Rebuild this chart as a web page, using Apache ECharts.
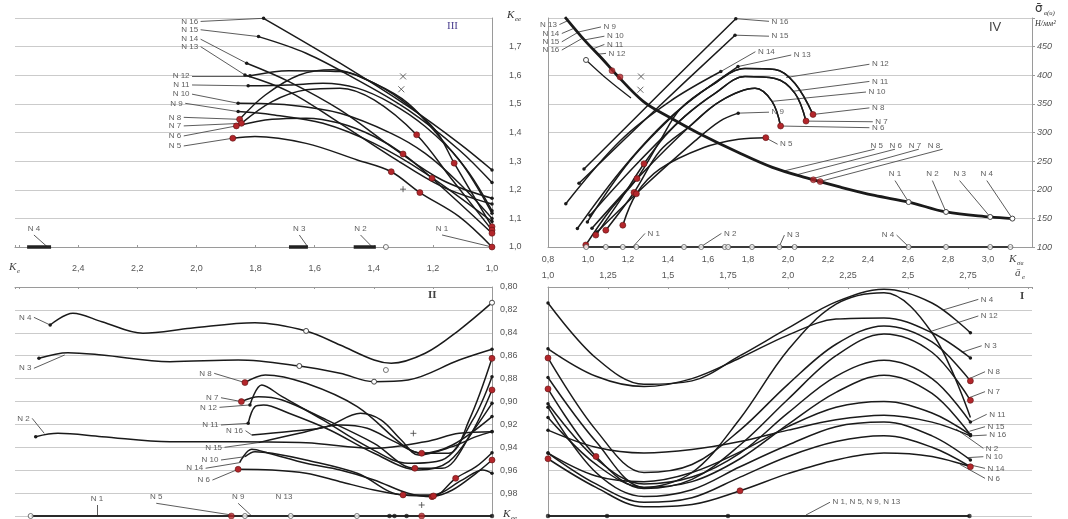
<!DOCTYPE html>
<html><head><meta charset="utf-8">
<script src="https://cdn.jsdelivr.net/npm/echarts@6/dist/echarts.min.js"></script>
<style>html,body{margin:0;padding:0;background:#fff}#c{width:1068px;height:519px}</style>
</head><body><div id="c"></div>
<script>
// ================= DATA =================
// Quadrant III : x = K_e, y = K_ee
const q3N16 = [[1.773,1.799],[1.514,1.642],[1.284,1.491],[1.111,1.362],[1.0,1.269]];
const q3N15 = [[1.790,1.735],[1.629,1.677],[1.456,1.584],[1.284,1.479],[1.111,1.339],[1.0,1.225]];
const q3N14 = [[1.830,1.642],[1.687,1.578],[1.514,1.479],[1.341,1.351],[1.169,1.234],[1.0,1.170]];
const q3N13 = [[1.836,1.601],[1.687,1.543],[1.514,1.432],[1.341,1.316],[1.169,1.211],[1.0,1.150]];
const q3N12 = [[1.819,1.598],[1.687,1.616],[1.514,1.613],[1.399,1.572],[1.284,1.502],[1.169,1.374],[1.077,1.258],[1.0,1.127]];
const q3N11 = [[1.825,1.563],[1.687,1.566],[1.572,1.572],[1.456,1.555],[1.341,1.502],[1.226,1.421],[1.111,1.304],[1.0,1.118]];
const q3N10 = [[1.859,1.502],[1.687,1.496],[1.514,1.467],[1.341,1.397],[1.226,1.327],[1.111,1.223],[1.0,1.100]];
const q3N9  = [[1.859,1.473],[1.744,1.462],[1.572,1.432],[1.399,1.362],[1.226,1.258],[1.0,1.089]];
const q3N8  = [[1.854,1.446],[1.767,1.531],[1.652,1.601],[1.537,1.619],[1.422,1.584],[1.307,1.514],[1.192,1.409],[1.128,1.293],[1.0,1.071]];
const q3N7  = [[1.848,1.432],[1.744,1.508],[1.629,1.549],[1.514,1.555],[1.399,1.514],[1.255,1.392],[1.134,1.234],[1.0,1.059]];
const q3N6  = [[1.865,1.423],[1.744,1.446],[1.629,1.450],[1.514,1.432],[1.399,1.386],[1.301,1.325],[1.203,1.240],[1.0,1.048]];
const q3N5  = [[1.877,1.380],[1.802,1.386],[1.629,1.362],[1.456,1.304],[1.341,1.263],[1.244,1.190],[1.111,1.106],[1.0,1.0]];
const q3Clusters = [[2.573,2.492],[1.687,1.623],[1.468,1.393]];
const q3Cross = [[1.301,1.596],[1.307,1.551]];
const q3Plus = [[1.301,1.202]];
const q3Labels = [
 ['N 16',1.986,1.788,1.773,1.799],['N 15',1.986,1.759,1.790,1.735],['N 14',1.986,1.726,1.830,1.642],
 ['N 13',1.986,1.700,1.836,1.601],['N 12',2.015,1.598,1.819,1.598],['N 11',2.015,1.566,1.825,1.563],
 ['N 10',2.015,1.534,1.859,1.502],['N 9',2.038,1.502,1.859,1.473],['N 8',2.043,1.453,1.854,1.446],
 ['N 7',2.043,1.423,1.848,1.432],['N 6',2.043,1.388,1.865,1.423],['N 5',2.043,1.353,1.877,1.380],
 ['N 4',2.550,1.042,2.504,1.0,'top'],['N 3',1.652,1.042,1.623,1.0,'top'],
 ['N 2',1.445,1.042,1.405,1.0,'top'],['N 1',1.169,1.042,1.0,1.0,'top']
];

// Quadrant IV : x = K_sigma, y = sigma (N/mm2)
const q4Sigma = [[0.885,501.7],[0.987,459.6],[1.072,428.4],[1.140,401.9],[1.276,354.5],[1.412,325.7],[1.548,299.7],[1.752,265.1],[1.922,239.1],[2.093,220.6],[2.263,204.5],[2.433,190.0],[2.603,178.5],[2.790,161.2],[3.011,152.5],[3.122,149.6]];
const q4Branch = [[0.990,426.7],[1.100,392.0],[1.215,360.3]];
const q4RedPts = [[1.12,408],[1.16,397],[2.127,217.4],[2.161,214.2]];
const q4Cross = [[1.265,397.8],[1.262,374.7]];
const q4N16 = [[0.980,236.3],[1.360,368.4],[1.739,498.8]];
const q4N15 = [[0.955,211.3],[1.340,340.7],[1.735,470.0]];
const q4N14 = [[0.889,175.7],[1.160,285.3],[1.410,354.5],[1.664,406.5]];
const q4N13 = [[0.947,132.4],[1.185,242.0],[1.435,333.8],[1.750,415.2]];
const q4N12 = [[0.997,143.8],[1.210,250.6],[1.460,340.7],[1.610,380.5],[1.785,411.7],[1.935,410.0],[2.035,385.7],[2.125,331.5]];
const q4N8  = [[0.989,103.5],[1.110,164.1],[1.245,219.5],[1.360,285.3],[1.460,340.7],[1.610,380.5],[1.785,411.7],[1.935,410.0],[2.035,385.7],[2.125,331.5]];
const q4N11 = [[1.010,155.4],[1.235,242.0],[1.485,328.6],[1.635,368.4],[1.785,397.8],[1.935,394.4],[2.035,368.4],[2.090,319.9]];
const q4N7  = [[1.039,120.8],[1.160,181.4],[1.280,245.5],[1.385,293.9],[1.485,328.6],[1.635,368.4],[1.785,397.8],[1.935,394.4],[2.035,368.4],[2.090,319.9]];
const q4N10 = [[1.020,132.9],[1.260,224.7],[1.510,311.3],[1.660,354.5],[1.835,377.1],[1.920,354.5],[1.963,311.3]];
const q4N6  = [[1.089,129.4],[1.230,195.2],[1.360,268.0],[1.510,311.3],[1.660,354.5],[1.835,377.1],[1.920,354.5],[1.963,311.3]];
const q4N9  = [[1.045,126.0],[1.285,207.4],[1.535,285.3],[1.660,319.9],[1.751,333.8]];
const q4N5  = [[1.174,138.1],[1.242,193.0],[1.360,236.3],[1.580,273.7],[1.753,288.2],[1.889,291.0]];
const q4Base = [0.991,1.089,1.174,1.242,1.480,1.566,1.684,1.701,1.820,1.957,2.033,2.603,2.790,3.011,3.112];
const q4Labels = [
 ['N 13',0.857,488.5,0.900,495.5],['N 14',0.869,472.9,0.932,482.3],['N 15',0.869,458.4,0.950,475.0],['N 16',0.869,444.0,0.974,465.0],
 ['N 9',1.065,484.4,0.949,475.3,'right'],['N 10',1.082,468.2,0.982,461.7,'right'],['N 11',1.082,453.8,1.024,446.0,'right'],['N 12',1.090,438.2,1.049,436.8,'right'],
 ['N 16',1.905,494.2,1.739,498.8,'right'],['N 15',1.905,468.2,1.735,470.0,'right'],['N 14',1.837,441.1,1.664,406.5,'right'],
 ['N 13',2.016,435.3,1.750,415.2,'right'],['N 12',2.407,419.2,1.991,396.0,'right'],['N 11',2.407,389.2,2.025,372.0,'right'],
 ['N 10',2.390,370.7,1.922,354.5,'right'],['N 8',2.407,343.0,2.125,331.5,'right'],['N 7',2.424,318.8,2.090,319.9,'right'],
 ['N 6',2.407,308.4,1.963,311.3,'right'],['N 9',1.905,335.5,1.751,333.8,'right'],['N 5',1.948,279.5,1.887,291.0,'right'],
 ['N 5   N 6   N 7   N 8',2.40,277,2.40,277,'right'],
 ['',2.433,270.8,1.982,233.0],['',2.535,270.8,2.042,226.0],['',2.654,270.8,2.110,218.0],['',2.773,270.8,2.161,214.5],
 ['N 1',2.535,216,2.603,178.5,'top'],['N 2',2.722,216,2.790,161.2,'top'],['N 3',2.858,216,3.011,152.5,'top'],['N 4',2.994,216,3.122,149.6,'top'],
 ['N 1',1.285,123.7,1.225,100.6,'right'],['N 2',1.667,123.7,1.565,100.6,'right'],['N 3',1.982,120.8,1.956,100.6,'right'],['N 4',2.543,120.8,2.603,100.6,'left']
];

// Quadrant II : x = K_e, y = K_ee (0.80 .. 1.00, downward)
const q2N4 = [[2.495,0.8332],[2.418,0.8230],[2.320,0.8303],[2.181,0.8404],[2.020,0.8361],[1.802,0.8312],[1.629,0.8384],[1.514,0.8507],[1.399,0.8638],[1.341,0.8666],[1.226,0.8579],[1.111,0.8376],[1.0,0.8137]];
const q2N3 = [[2.533,0.8623],[2.435,0.8574],[2.320,0.8594],[2.090,0.8652],[1.859,0.8638],[1.652,0.8690],[1.514,0.8754],[1.399,0.8827],[1.284,0.8812],[1.111,0.8638],[1.0,0.8544]];
const q2N2 = [[2.544,0.9307],[2.469,0.9278],[2.320,0.9307],[2.090,0.9351],[1.859,0.9351],[1.629,0.9360],[1.399,0.9408],[1.226,0.9351],[1.111,0.9278],[1.0,0.9264]];
const q2N8 = [[1.836,0.8835],[1.767,0.8768],[1.629,0.8841],[1.456,0.9045],[1.295,0.9394],[1.238,0.9452],[1.146,0.9452],[1.077,0.9161],[1.0,0.8623]];
const q2N7 = [[1.848,0.9001],[1.790,0.8958],[1.710,0.8987],[1.560,0.9161],[1.399,0.9365],[1.261,0.9583],[1.169,0.9583],[1.077,0.9307],[1.0,0.8899]];
const q2N12 = [[1.819,0.9030],[1.779,0.8856],[1.710,0.8958],[1.572,0.9161],[1.422,0.9394],[1.284,0.9540],[1.169,0.9511],[1.065,0.9161],[1.0,0.8783]];
const q2N11 = [[1.825,0.9191],[1.802,0.9045],[1.773,0.9030],[1.687,0.9103],[1.549,0.9249],[1.399,0.9452],[1.249,0.9598],[1.146,0.9525],[1.054,0.9220],[1.0,0.9016]];
const q2N16 = [[1.813,0.9292],[1.687,0.9263],[1.560,0.9220],[1.445,0.9103],[1.376,0.9161],[1.307,0.9336],[1.249,0.9467],[1.134,0.9394],[1.054,0.9307],[1.0,0.9263]];
const q2N15 = [[1.790,0.9359],[1.652,0.9278],[1.514,0.9205],[1.422,0.9234],[1.330,0.9351],[1.238,0.9452],[1.134,0.9380],[1.0,0.9132]];
const q2N10 = [[1.836,0.9482],[1.802,0.9438],[1.744,0.9452],[1.629,0.9511],[1.456,0.9627],[1.301,0.9816],[1.203,0.9816],[1.100,0.9685],[1.031,0.9598],[1.0,0.9627]];
const q2N14 = [[1.854,0.9534],[1.813,0.9418],[1.756,0.9452],[1.629,0.9540],[1.514,0.9598],[1.399,0.9685],[1.284,0.9802],[1.203,0.9831],[1.123,0.9671],[1.054,0.9569],[1.0,0.9447]];
const q2N6 = [[1.859,0.9592],[1.744,0.9598],[1.629,0.9627],[1.514,0.9700],[1.399,0.9773],[1.301,0.9816],[1.198,0.9825],[1.134,0.9773],[1.054,0.9627],[1.0,0.9511]];
const q2BaseHollow = [2.561,1.836,1.681,1.457];
const q2BaseBlack = [1.347,1.330,1.289,1.0];
const q2BaseRed = [1.882,1.238];
const q2Hollow = [[1.359,0.8725]];
const q2Plus = [[1.266,0.9278],[1.238,0.9904]];
const q2Labels = [
 ['N 4',2.550,0.8265,2.495,0.8332],['N 3',2.550,0.8710,2.446,0.8594],['N 2',2.556,0.9147,2.515,0.9278],
 ['N 8',1.940,0.8754,1.836,0.8835],['N 7',1.917,0.8967,1.848,0.9001],['N 12',1.922,0.9051,1.819,0.9030],
 ['N 11',1.917,0.9205,1.825,0.9191],['N 16',1.834,0.9255,1.813,0.9292],['N 15',1.905,0.9400,1.790,0.9359],
 ['N 10',1.917,0.9511,1.836,0.9482],['N 14',1.969,0.9583,1.854,0.9534],['N 6',1.946,0.9686,1.859,0.9592],
 ['N 1',2.337,0.9904,2.337,1.0,'top'],['N 5',2.136,0.9889,1.882,0.9991,'top'],['N 9',1.859,0.9889,1.813,1.0,'top'],
 ['N 13',1.704,0.9889,1.704,0.9889,'top']
];

// Quadrant I : x = a_e, y = K_ee (0.80 .. 1.00, downward)
const q1N4  = [[1.0,0.814],[1.2,0.862],[1.4,0.885],[1.6,0.882],[1.8,0.860],[2.0,0.836],[2.2,0.813],[2.4,0.802],[2.6,0.814],[2.76,0.840]];
const q1N3  = [[1.0,0.854],[1.2,0.878],[1.4,0.887],[1.6,0.880],[1.8,0.862],[2.0,0.842],[2.2,0.828],[2.4,0.827],[2.6,0.840],[2.76,0.862]];
const q1N12 = [[1.0,0.879],[1.2,0.935],[1.4,0.975],[1.6,0.962],[1.8,0.915],[2.0,0.855],[2.2,0.815],[2.4,0.805],[2.6,0.840],[2.76,0.914]];
const q1N8  = [[1.0,0.862],[1.2,0.925],[1.4,0.962],[1.6,0.955],[1.8,0.925],[2.0,0.885],[2.2,0.850],[2.4,0.834],[2.6,0.848],[2.76,0.882]];
const q1N7  = [[1.0,0.889],[1.2,0.948],[1.4,0.976],[1.6,0.968],[1.8,0.938],[2.0,0.898],[2.2,0.860],[2.4,0.841],[2.6,0.857],[2.76,0.899]];
const q1N11 = [[1.0,0.902],[1.2,0.950],[1.4,0.972],[1.6,0.966],[1.8,0.945],[2.0,0.910],[2.2,0.878],[2.4,0.864],[2.6,0.880],[2.76,0.918]];
const q1N16 = [[1.0,0.914],[1.2,0.955],[1.4,0.975],[1.6,0.970],[1.8,0.950],[2.0,0.920],[2.2,0.892],[2.4,0.877],[2.6,0.893],[2.76,0.929]];
const q1N2  = [[1.0,0.925],[1.2,0.940],[1.4,0.945],[1.6,0.942],[1.8,0.935],[2.0,0.925],[2.2,0.916],[2.4,0.912],[2.6,0.918],[2.76,0.930]];
const q1N15 = [[1.0,0.945],[1.2,0.965],[1.4,0.970],[1.6,0.962],[1.8,0.944],[2.0,0.922],[2.2,0.905],[2.4,0.900],[2.6,0.910],[2.76,0.929]];
const q1N10 = [[1.0,0.905],[1.2,0.962],[1.4,0.983],[1.6,0.977],[1.8,0.957],[2.0,0.938],[2.2,0.922],[2.4,0.918],[2.6,0.930],[2.76,0.951]];
const q1N14 = [[1.0,0.945],[1.2,0.972],[1.4,0.988],[1.6,0.984],[1.8,0.966],[2.0,0.948],[2.2,0.935],[2.4,0.930],[2.6,0.940],[2.76,0.957]];
const q1N6  = [[1.0,0.950],[1.2,0.975],[1.4,0.992],[1.6,0.990],[1.8,0.978],[2.0,0.963],[2.2,0.951],[2.4,0.945],[2.6,0.948],[2.76,0.957]];
const q1Base = [1.0,1.246,1.750,2.756];
const q1Labels = [
 ['N 4',2.793,0.8108,2.647,0.8200,'right'],['N 12',2.793,0.8253,2.592,0.8390,'right'],['N 3',2.807,0.8513,2.724,0.8570,'right'],
 ['N 8',2.821,0.8740,2.756,0.8800,'right'],['N 7',2.821,0.8914,2.751,0.8970,'right'],['N 11',2.828,0.9112,2.761,0.9180,'right'],
 ['N 15',2.821,0.9220,2.756,0.9260,'right'],['N 16',2.828,0.9293,2.765,0.9300,'right'],['N 2',2.814,0.9409,2.700,0.9240,'right'],
 ['N 10',2.814,0.9482,2.751,0.9490,'right'],['N 14',2.821,0.9584,2.751,0.9550,'right'],['N 6',2.821,0.9671,2.717,0.9550,'right'],
 ['N 1, N 5, N 9, N 13',2.175,0.9880,2.075,0.9991,'right']
];

// ================= RENDER =================
const RED = '#b3262b', BLK = '#1a1a1a', GRID = '#cbcbcb', AX = '#9a9a9a';
const FONT = 'Liberation Sans, Arial, sans-serif';
const fmt1 = v => v.toFixed(1).replace('.', ',');

function curve(data, xi, yi, o) {
  o = o || {};
  const red = o.red || [], black = o.black || [], hollow = o.hollow || [];
  return {
    type: 'line', xAxisIndex: xi, yAxisIndex: yi, smooth: 0.35, symbol: 'none', showSymbol: true,
    clip: false, silent: true, z: 3, lineStyle: { color: BLK, width: o.w || 1.5 },
    data: data.map((p, i) => {
      if (red.includes(i)) return { value: p, symbol: 'circle', symbolSize: 6, itemStyle: { color: RED, borderColor: '#5e1212', borderWidth: 0.6 } };
      if (hollow.includes(i)) return { value: p, symbol: 'circle', symbolSize: 5, itemStyle: { color: '#fff', borderColor: '#444', borderWidth: 1 } };
      if (black.includes(i)) return { value: p, symbol: 'circle', symbolSize: 3.5, itemStyle: { color: BLK } };
      return { value: p };
    })
  };
}
function pts(data, xi, yi, kind) {
  const st = {
    red: { symbol: 'circle', size: 6, style: { color: RED, borderColor: '#5e1212', borderWidth: 0.6 } },
    black: { symbol: 'circle', size: 4.5, style: { color: BLK } },
    hollow: { symbol: 'circle', size: 5, style: { color: '#fff', borderColor: '#555', borderWidth: 1 } },
    cross: { symbol: 'path://M0,0L10,10M10,0L0,10', size: 6, style: { color: 'none', borderColor: '#444', borderWidth: 1 } },
    plus: { symbol: 'path://M5,0L5,10M0,5L10,5', size: 6, style: { color: 'none', borderColor: '#444', borderWidth: 1 } }
  }[kind];
  return { type: 'scatter', xAxisIndex: xi, yAxisIndex: yi, clip: false, silent: true, z: 4,
    symbol: st.symbol, symbolSize: st.size, itemStyle: st.style, data: data };
}
function seg(data, xi, yi, w, c) {
  return { type: 'line', xAxisIndex: xi, yAxisIndex: yi, symbol: 'none', clip: false, silent: true, z: 2,
    lineStyle: { color: c || '#333', width: w }, data: data };
}
function labels(ann, xi, yi) {
  return [
    { type: 'lines', coordinateSystem: 'cartesian2d', xAxisIndex: xi, yAxisIndex: yi, silent: true, z: 2,
      lineStyle: { color: '#4a4a4a', width: 0.9, opacity: 1, curveness: 0 }, effect: { show: false },
      data: ann.filter(a => a[1] !== a[3] || a[2] !== a[4]).map(a => ({ coords: [[a[1], a[2]], [a[3], a[4]]] })) },
    { type: 'scatter', xAxisIndex: xi, yAxisIndex: yi, silent: true, z: 5, clip: false,
      symbol: 'circle', symbolSize: 1, itemStyle: { color: 'rgba(0,0,0,0)' },
      data: ann.filter(a => a[0]).map(a => ({ value: [a[1], a[2]],
        label: { show: true, formatter: a[0], position: a[5] || 'left', distance: 2,
          fontSize: 8, color: '#333', fontFamily: FONT } })) }
  ];
}

const series = [];
// ---- III
[[q3N16,[], [0,4]],[q3N15,[],[0,5]],[q3N14,[],[0,5]],[q3N13,[],[0,5]],[q3N12,[],[0,7]],[q3N11,[],[0,7]],
 [q3N10,[],[0,6]],[q3N9,[],[0,5]],[q3N8,[0,7,8],[]],[q3N7,[0,5,7],[]],[q3N6,[0,5,6,7],[]],[q3N5,[0,4,5,7],[]]]
 .forEach(c => series.push(curve(c[0], 0, 0, { red: c[1], black: c[2] })));
q3Clusters.forEach(c => series.push(seg([[c[0], 1.0], [c[1], 1.0]], 0, 0, 3.5, '#222')));
series.push(pts([[1.359, 1.0]], 0, 0, 'hollow'));
series.push(pts(q3Cross, 0, 0, 'cross'));
series.push(pts(q3Plus, 0, 0, 'plus'));
series.push(...labels(q3Labels, 0, 0));

// ---- IV
series.push(curve(q4Sigma, 1, 1, { w: 2.8, hollow: [12, 13, 14, 15] }));
series.push(curve(q4Branch, 1, 1, { w: 1.2, hollow: [0] }));
series.push(pts(q4RedPts, 1, 1, 'red'));
series.push(pts(q4Cross, 1, 1, 'cross'));
[[q4N16,[],[0,2]],[q4N15,[],[0,2]],[q4N14,[],[0,3]],[q4N13,[],[0,3]],[q4N12,[],[0]],[q4N11,[],[0]],
 [q4N10,[],[0]],[q4N9,[],[0,4]],[q4N8,[0,2,9],[]],[q4N7,[0,2,9],[]],[q4N6,[0,1,7],[]],[q4N5,[0,1,5],[]]]
 .forEach(c => series.push(curve(c[0], 1, 1, { red: c[1], black: c[2] })));
series.push(seg([[0.99, 100], [3.12, 100]], 1, 1, 1.8, '#3a3a3a'));
series.push(pts(q4Base.map(v => [v, 100]), 1, 1, 'hollow'));
series.push(...labels(q4Labels, 1, 1));

// ---- II
series.push(curve(q2N4, 2, 3, { black: [0], hollow: [6, 12] }));
series.push(curve(q2N3, 2, 3, { black: [0, 10], hollow: [5, 7] }));
series.push(curve(q2N2, 2, 3, { black: [0, 9] }));
[[q2N8,[0,5,8],[]],[q2N7,[0,5,8],[]],[q2N12,[],[0,8]],[q2N11,[],[0,9]],[q2N16,[],[9]],[q2N15,[],[7]],
 [q2N10,[5],[9]],[q2N14,[7,8],[10]],[q2N6,[0,6,9],[]]]
 .forEach(c => series.push(curve(c[0], 2, 3, { red: c[1], black: c[2] })));
series.push(pts(q2Hollow, 2, 3, 'hollow'));
series.push(pts(q2Plus, 2, 3, 'plus'));
series.push(seg([[2.561, 1.0], [1.0, 1.0]], 2, 3, 2.2, '#2a2a2a'));
series.push(pts(q2BaseHollow.map(v => [v, 1.0]), 2, 3, 'hollow'));
series.push(pts(q2BaseBlack.map(v => [v, 1.0]), 2, 3, 'black'));
series.push(pts(q2BaseRed.map(v => [v, 1.0]), 2, 3, 'red'));
series.push(...labels(q2Labels, 2, 3));

// ---- I
[[q1N4,[],[0,9]],[q1N3,[],[0,9]],[q1N12,[],[0]],[q1N8,[0,9],[]],[q1N7,[0,1,9],[]],[q1N11,[],[0,9]],
 [q1N16,[],[0,9]],[q1N2,[],[0,9]],[q1N15,[],[0,9]],[q1N10,[],[0,9]],[q1N14,[],[0,9]],[q1N6,[0,4,9],[]]]
 .forEach(c => series.push(curve(c[0], 3, 4, { red: c[1], black: c[2] })));
series.push(seg([[1.0, 1.0], [2.756, 1.0]], 3, 4, 2.2, '#2a2a2a'));
series.push(pts(q1Base.map(v => [v, 1.0]), 3, 4, 'black'));
series.push(...labels(q1Labels, 3, 4));

const lab = { fontSize: 9, color: '#555', fontFamily: FONT };
const axLine = { show: true, onZero: false, lineStyle: { color: AX, width: 1 } };
const split = { show: true, lineStyle: { color: GRID, width: 1 } };

const option = {
  animation: false,
  backgroundColor: '#fff',
  grid: [
    { left: 15, top: 18, width: 477, height: 229 },
    { left: 548, top: 18, width: 484, height: 229 },
    { left: 15, top: 287, width: 477, height: 229 },
    { left: 548, top: 287, width: 484, height: 229 }
  ],
  xAxis: [
    { gridIndex: 0, type: 'value', min: 1.0, max: 2.614, interval: 0.2, inverse: true, position: 'bottom',
      axisLine: axLine, axisTick: { show: true, inside: true, length: 2, lineStyle: { color: AX } },
      axisLabel: { show: false }, splitLine: { show: false } },
    { gridIndex: 1, type: 'value', min: 0.8, max: 3.22, interval: 0.2, position: 'bottom',
      axisLine: axLine, axisTick: { show: false },
      axisLabel: Object.assign({ margin: 8, formatter: v => v > 3.05 ? '' : fmt1(v) }, lab), splitLine: { show: false } },
    { gridIndex: 2, type: 'value', min: 1.0, max: 2.614, interval: 0.2, inverse: true, position: 'top',
      axisLine: axLine, axisTick: { show: true, inside: true, length: 2, lineStyle: { color: AX } },
      axisLabel: Object.assign({ margin: 14, formatter: v => v > 2.5 ? '' : fmt1(v) }, lab), splitLine: { show: false } },
    { gridIndex: 3, type: 'value', min: 1.0, max: 3.0167, interval: 0.25, position: 'top',
      axisLine: axLine, axisTick: { show: true, inside: true, length: 2, lineStyle: { color: AX } },
      axisLabel: Object.assign({ margin: 7, formatter: v => {
        if (v > 2.9) return '';
        const half = Math.abs(v * 2 - Math.round(v * 2)) < 1e-6;
        return (half ? v.toFixed(1) : v.toFixed(2)).replace('.', ',');
      } }, lab), splitLine: { show: false } }
  ],
  yAxis: [
    { gridIndex: 0, type: 'value', min: 1.0, max: 1.8, interval: 0.1, position: 'right',
      axisLine: axLine, axisTick: { show: false },
      axisLabel: Object.assign({ margin: 17, formatter: v => v > 1.75 ? '' : fmt1(v) }, lab), splitLine: split },
    { gridIndex: 1, type: 'value', min: 100, max: 500, interval: 50, position: 'right',
      axisLine: axLine, axisTick: { show: true, length: 3, lineStyle: { color: AX } },
      axisLabel: Object.assign({ margin: 5, formatter: v => v >= 500 ? '' : String(v), fontStyle: 'italic' }, lab), splitLine: split },
    { gridIndex: 1, type: 'value', min: 100, max: 500, interval: 50, position: 'left',
      axisLine: axLine, axisTick: { show: false }, axisLabel: { show: false }, splitLine: { show: false } },
    { gridIndex: 2, type: 'value', min: 0.8, max: 1.0, interval: 0.02, inverse: true, position: 'right',
      axisLine: axLine, axisTick: { show: false },
      axisLabel: Object.assign({ margin: 8, formatter: v => v > 0.99 ? '' : v.toFixed(2).replace('.', ',') }, lab), splitLine: split },
    { gridIndex: 3, type: 'value', min: 0.8, max: 1.0, interval: 0.02, inverse: true, position: 'left',
      axisLine: axLine, axisTick: { show: false }, axisLabel: { show: false }, splitLine: split }
  ],
  graphic: [
    { type: 'text', left: 507, top: 10, style: { text: 'K', font: 'italic 11px Liberation Serif', fill: '#333' } },
    { type: 'text', left: 515, top: 16, style: { text: 'ee', font: 'italic 7px Liberation Serif', fill: '#333' } },
    { type: 'text', left: 1035, top: 3, style: { text: 'σ̄', font: '12px DejaVu Sans', fill: '#333' } },
    { type: 'text', left: 1044, top: 10, style: { text: 'в(υ)', font: 'italic 7px Liberation Serif', fill: '#333' } },
    { type: 'text', left: 1035, top: 20, style: { text: 'Н/мм²', font: 'italic 8px Liberation Serif', fill: '#333' } },
    { type: 'text', left: 9, top: 262, style: { text: 'K', font: 'italic 11px Liberation Serif', fill: '#444' } },
    { type: 'text', left: 17, top: 268, style: { text: 'e', font: 'italic 7px Liberation Serif', fill: '#444' } },
    { type: 'text', left: 1009, top: 254, style: { text: 'K', font: 'italic 11px Liberation Serif', fill: '#444' } },
    { type: 'text', left: 1017, top: 260, style: { text: 'σв', font: 'italic 7px Liberation Serif', fill: '#444' } },
    { type: 'text', left: 1015, top: 268, style: { text: 'ā', font: 'italic 11px Liberation Serif', fill: '#444' } },
    { type: 'text', left: 1022, top: 274, style: { text: 'e', font: 'italic 7px Liberation Serif', fill: '#444' } },
    { type: 'text', left: 503, top: 509, style: { text: 'K', font: 'italic 11px Liberation Serif', fill: '#333' } },
    { type: 'text', left: 511, top: 515, style: { text: 'ee', font: 'italic 7px Liberation Serif', fill: '#333' } },
    { type: 'text', left: 447, top: 21, style: { text: 'III', font: '11px Liberation Serif', fill: '#4b3f8f' } },
    { type: 'text', left: 989, top: 21, style: { text: 'IV', font: '13px Liberation Sans', fill: '#444' } },
    { type: 'text', left: 428, top: 290, style: { text: 'II', font: 'bold 11px Liberation Serif', fill: '#444' } },
    { type: 'text', left: 1020, top: 291, style: { text: 'I', font: 'bold 11px Liberation Serif', fill: '#444' } }
  ],
  series: series
};
const chart = echarts.init(document.getElementById('c'), null, { renderer: 'canvas' });
chart.setOption(option);
</script>
</body></html>
